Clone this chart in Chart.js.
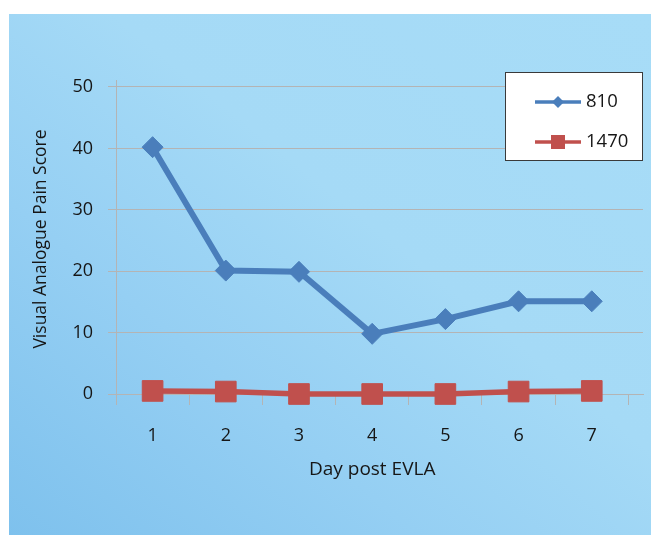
<!DOCTYPE html>
<html>
<head>
<meta charset="utf-8">
<script src="https://cdn.jsdelivr.net/npm/chart.js@4/dist/chart.umd.min.js"></script>
<style>
  html, body { margin: 0; padding: 0; background: #fff; }
  #panel {
    position: absolute; left: 9px; top: 14px; width: 642px; height: 521px;
    background: linear-gradient(to top right, #7ec1ed 0%, #95cff3 32%, #a5daf6 58%, #a7dcf7 100%);
  }
  canvas { display: block; }
</style>
</head>
<body>
<div id="panel"><canvas id="vas" width="642" height="521"></canvas></div>
<script>
// VAS pain score per day after EVLA, two laser wavelengths
const days = [1, 2, 3, 4, 5, 6, 7];
const series810 = [40.2, 20.1, 19.9, 9.8, 12.2, 15.1, 15.1];
const series1470 = [0.5, 0.4, 0, 0, 0, 0.4, 0.5];
const yTicks = [0, 10, 20, 30, 40, 50];

const blue = '#4a7ebb';
const red = '#c0504d';
const gridCol = '#b4b4b4';
const textCol = '#161616';

Chart.defaults.font.family = "'Open Sans', sans-serif";
Chart.defaults.color = textCol;

const toPoints = vals => days.map((d, i) => ({ x: d, y: vals[i] }));

// axis titles and the boxed legend are drawn by hand
const extras = {
  id: 'extras',
  afterDraw(chart) {
    const ctx = chart.ctx;
    const area = chart.chartArea;
    const xs = chart.scales.x;
    ctx.save();
    ctx.fillStyle = textCol;

    // x title centred under the day labels
    ctx.font = "19px 'Open Sans'";
    ctx.textAlign = 'center';
    ctx.textBaseline = 'alphabetic';
    ctx.fillText('Day post EVLA', xs.getPixelForValue(4), 461);

    // y title
    ctx.save();
    ctx.translate(32, (area.top + area.bottom) / 2 + 2);
    ctx.rotate(-Math.PI / 2);
    ctx.font = "17.5px 'Open Sans'";
    ctx.textBaseline = 'middle';
    ctx.fillText('Visual Analogue Pain Score', 0, 0);
    ctx.restore();

    // legend box
    const bx = 496, by = 58, bw = 138, bh = 89;
    ctx.fillStyle = '#ffffff';
    ctx.fillRect(bx, by, bw, bh);
    ctx.strokeStyle = '#3a3a3a';
    ctx.lineWidth = 1;
    ctx.strokeRect(bx + 0.5, by + 0.5, bw - 1, bh - 1);

    const rows = [{ ds: chart.data.datasets[0], y: by + 30 }, { ds: chart.data.datasets[1], y: by + 70 }];
    rows.forEach(r => {
      const c = r.ds.borderColor;
      ctx.strokeStyle = c;
      ctx.lineWidth = 3.5;
      ctx.beginPath();
      ctx.moveTo(bx + 30, r.y);
      ctx.lineTo(bx + 76, r.y);
      ctx.stroke();
      ctx.fillStyle = c;
      const cx = bx + 53;
      if (r.ds.pointStyle === 'rectRot') {
        ctx.beginPath();
        ctx.moveTo(cx, r.y - 6);
        ctx.lineTo(cx + 6, r.y);
        ctx.lineTo(cx, r.y + 6);
        ctx.lineTo(cx - 6, r.y);
        ctx.closePath();
        ctx.fill();
      } else {
        ctx.fillRect(cx - 7, r.y - 7, 14, 14);
      }
      ctx.fillStyle = textCol;
      ctx.font = "18.5px 'Open Sans'";
      ctx.textAlign = 'left';
      ctx.textBaseline = 'middle';
      ctx.fillText(r.ds.label, bx + 81, r.y);
    });
    ctx.restore();
  }
};

new Chart(document.getElementById('vas'), {
  type: 'line',
  data: {
    datasets: [
      {
        label: '810',
        data: toPoints(series810),
        borderColor: blue,
        backgroundColor: blue,
        borderWidth: 6,
        pointStyle: 'rectRot',
        pointRadius: 10.5,
        pointBorderWidth: 1,
        pointHoverRadius: 10.5,
        tension: 0,
        clip: false
      },
      {
        label: '1470',
        data: toPoints(series1470),
        borderColor: red,
        backgroundColor: red,
        borderWidth: 5.5,
        pointStyle: 'rect',
        pointRadius: 14.6,
        pointBorderWidth: 1,
        pointHoverRadius: 14.6,
        tension: 0,
        clip: false
      }
    ]
  },
  options: {
    responsive: false,
    animation: false,
    layout: { autoPadding: false, padding: { left: 0, top: 66, right: 8, bottom: 0 } },
    plugins: {
      legend: { display: false },
      tooltip: { enabled: false }
    },
    scales: {
      x: {
        type: 'linear',
        min: 0.5,
        max: 7.7,
        afterBuildTicks: s => { s.ticks = days.map(v => ({ value: v })); },
        afterFit: s => { s.height = 141; },
        ticks: { padding: 20, font: { size: 18 }, autoSkip: false, callback: v => String(v) },
        grid: { offset: true, drawOnChartArea: false, drawTicks: true, tickLength: 11, color: gridCol, lineWidth: 1 },
        border: { display: true, color: gridCol, width: 1 }
      },
      y: {
        min: 0,
        max: 51.14,
        afterBuildTicks: s => { s.ticks = yTicks.map(v => ({ value: v })); },
        afterFit: s => { s.width = 107; },
        ticks: { padding: 15, font: { size: 18 } },
        grid: { color: gridCol, lineWidth: 1, tickLength: 8, drawTicks: true },
        border: { display: true, color: gridCol, width: 1 }
      }
    }
  },
  plugins: [extras]
});
</script>
</body>
</html>
